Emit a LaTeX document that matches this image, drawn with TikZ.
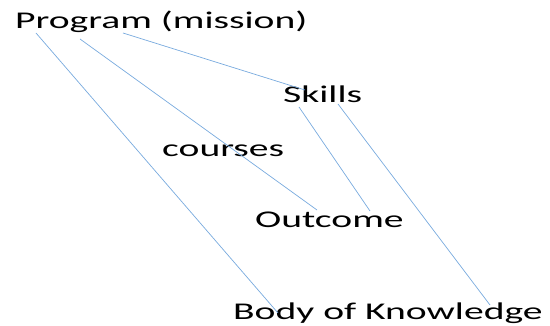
\documentclass[tikz,border=0pt]{standalone}
\usepackage{fontspec}
\setmainfont{Carlito}[FakeStretch=1.65]
\usepackage{tikz}
\usetikzlibrary{calc}
\usetikzlibrary{positioning}
\definecolor{linkblue}{RGB}{120,170,222}

\begin{document}
\begin{tikzpicture}[
	x=1pt, y=-1pt,
	lbl/.style = {inner sep=0pt, anchor=base west, font=\fontsize{24}{28}\selectfont},
	link/.style = {draw=linkblue, line width=0.7pt}
	]
	\useasboundingbox (0,0) rectangle (550,326);

	\coordinate (@prog) at (15,29);
	\coordinate (@skills) at (283,103);
	\coordinate (@courses) at (162,157);
	\coordinate (@outcome) at (255,228);
	\coordinate (@bok) at (233,320);

	\node[lbl] (prog) at (@prog) {Program (mission)};
	\node[lbl] (skills) at (@skills) {Skills};
	\node[lbl] (courses) at (@courses) {courses};
	\node[lbl] (outcome) at (@outcome) {Outcome};
	\node[lbl] (bok) at (@bok) {Body of Knowledge};

	\draw[link] ($(prog.base west)+(21,4)$) to ($(bok.base west)+(45,-7)$);
	\draw[link] ($(prog.base west)+(65,10)$) to ($(outcome.base west)+(62,-18)$);
	\draw[link] ($(prog.base west)+(108,4)$) to ($(skills.base west)+(22,-13)$);
	\draw[link] ($(skills.base west)+(16,4)$) to ($(outcome.base west)+(115,-17)$);
	\draw[link] ($(skills.base west)+(55,1)$) to ($(bok.base west)+(257,-15)$);

\end{tikzpicture}
\end{document}
